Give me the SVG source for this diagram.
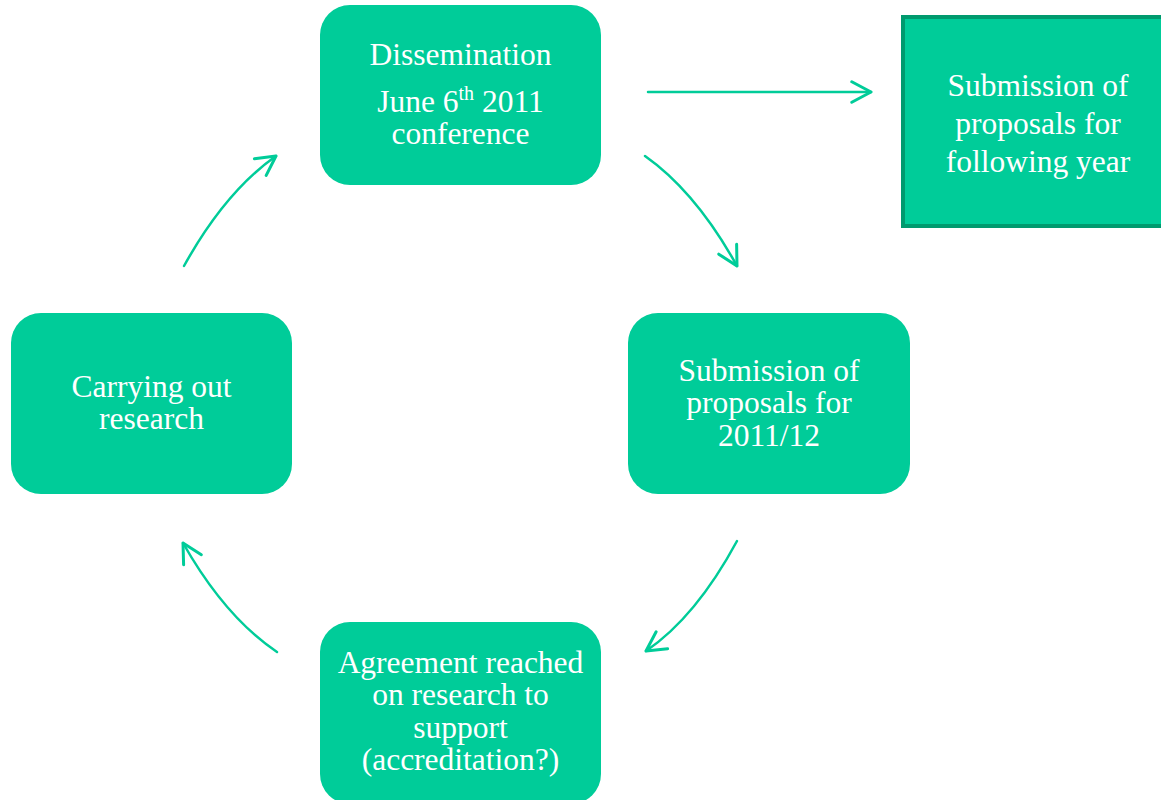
<svg xmlns="http://www.w3.org/2000/svg" width="1161" height="800" viewBox="0 0 1161 800">
<style>
.node{fill:#00CC99;}
.t{font-family:"Liberation Serif","Times New Roman",serif;font-size:31.5px;fill:#ffffff;text-anchor:middle;}
.c{fill:none;stroke:#00CC99;stroke-width:2.5;stroke-linecap:round;}
</style>
<defs>
<marker id="ah" markerUnits="userSpaceOnUse" markerWidth="24" markerHeight="24" viewBox="0 0 20 20" refX="18" refY="10" orient="auto">
<path d="M2,1.5 L18,10 L2,18.5" fill="none" stroke="#00CC99" stroke-width="2.5" stroke-linecap="round" stroke-linejoin="round"/>
</marker>
</defs>
<rect width="1161" height="800" fill="#ffffff"/>
<g id="connectors">
<path class="c" d="M648,92 L871,92" marker-end="url(#ah)"/>
<path class="c" d="M645,156 Q696,192 737,266" marker-end="url(#ah)"/>
<path class="c" d="M737,541 Q696,617 646,651" marker-end="url(#ah)"/>
<path class="c" d="M277,652 Q225,617 183,543" marker-end="url(#ah)"/>
<path class="c" d="M184,266 Q225,192 276,156" marker-end="url(#ah)"/>
</g>
<g id="dissemination">
<rect class="node" x="320" y="5" width="281" height="180" rx="30"/>
<text class="t" x="460.5" y="65">Dissemination</text>
<text class="t" x="460.5" y="112">June 6<tspan font-size="20" dy="-12">th</tspan><tspan dy="12"> 2011</tspan></text>
<text class="t" x="460.5" y="144">conference</text>
</g>
<g id="following-year">
<rect x="903" y="17" width="262" height="209" fill="#00CC99" stroke="#009A6E" stroke-width="4"/>
<text class="t" x="1038" y="96">Submission of</text>
<text class="t" x="1038" y="134">proposals for</text>
<text class="t" x="1038" y="172">following year</text>
</g>
<g id="submission">
<rect class="node" x="628" y="313" width="282" height="181" rx="30"/>
<text class="t" x="769" y="381">Submission of</text>
<text class="t" x="769" y="413">proposals for</text>
<text class="t" x="769" y="446">2011/12</text>
</g>
<g id="agreement">
<rect class="node" x="320" y="622" width="281" height="182" rx="30"/>
<text class="t" x="460.5" y="673">Agreement reached</text>
<text class="t" x="460.5" y="705">on research to</text>
<text class="t" x="460.5" y="738">support</text>
<text class="t" x="460.5" y="770">(accreditation?)</text>
</g>
<g id="research">
<rect class="node" x="11" y="313" width="281" height="181" rx="30"/>
<text class="t" x="151.5" y="397">Carrying out</text>
<text class="t" x="151.5" y="429">research</text>
</g>
</svg>
